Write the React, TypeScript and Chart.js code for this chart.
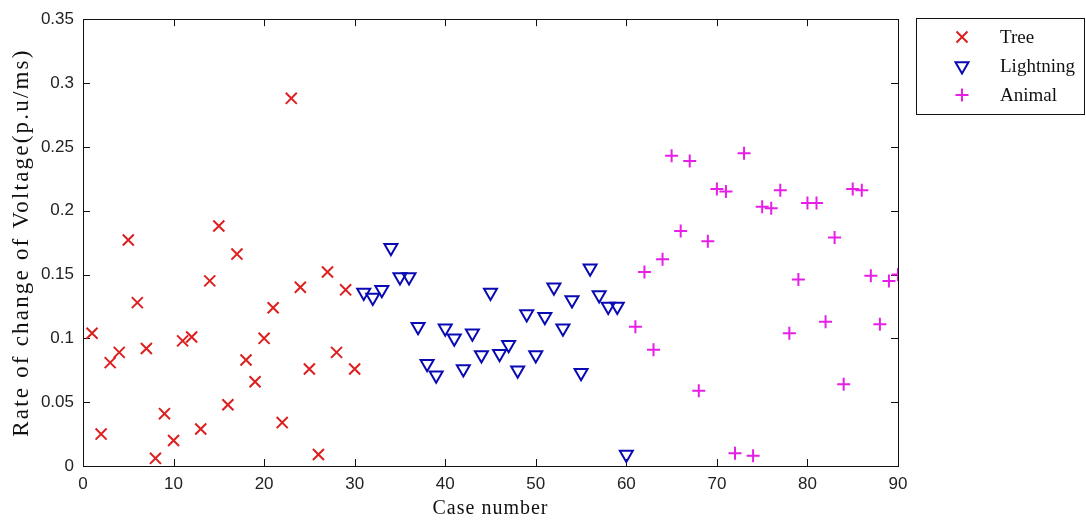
import React, { useEffect, useRef } from "react";
import { Chart, registerables } from "chart.js";

Chart.register(...registerables);

// ---- data ----
const treeX = [1, 2, 3, 4, 5, 6, 7, 8, 9, 10, 11, 12, 13, 14, 15, 16, 17, 18, 19, 20, 21, 22, 23, 24, 25, 26, 27, 28, 29, 30];
const treeY = [0.104, 0.025, 0.081, 0.089, 0.177, 0.128, 0.092, 0.006, 0.041, 0.020, 0.098, 0.101, 0.029, 0.145, 0.188, 0.048, 0.166, 0.083, 0.066, 0.100, 0.124, 0.034, 0.288, 0.140, 0.076, 0.009, 0.152, 0.089, 0.138, 0.076];

const lightningX = [31, 32, 33, 34, 35, 36, 37, 38, 39, 40, 41, 42, 43, 44, 45, 46, 47, 48, 49, 50, 51, 52, 53, 54, 55, 56, 57, 58, 59, 60];
const lightningY = [0.136, 0.132, 0.138, 0.171, 0.148, 0.148, 0.109, 0.080, 0.071, 0.108, 0.100, 0.076, 0.104, 0.087, 0.136, 0.088, 0.095, 0.075, 0.119, 0.087, 0.117, 0.140, 0.108, 0.130, 0.073, 0.155, 0.134, 0.125, 0.125, 0.009];

const animalX = [61, 62, 63, 64, 65, 66, 67, 68, 69, 70, 71, 72, 73, 74, 75, 76, 77, 78, 79, 80, 81, 82, 83, 84, 85, 86, 87, 88, 89, 90];
const animalY = [0.109, 0.152, 0.091, 0.162, 0.243, 0.184, 0.239, 0.059, 0.176, 0.217, 0.215, 0.010, 0.245, 0.008, 0.203, 0.202, 0.216, 0.104, 0.146, 0.206, 0.206, 0.113, 0.179, 0.064, 0.217, 0.216, 0.149, 0.111, 0.145, 0.150];

const seriesNames = ["Tree", "Lightning", "Animal"];
const xTicks = [0, 10, 20, 30, 40, 50, 60, 70, 80, 90];
const yTicks = [0, 0.05, 0.1, 0.15, 0.2, 0.25, 0.3, 0.35];
const yTickLabels = ["0", "0.05", "0.1", "0.15", "0.2", "0.25", "0.3", "0.35"];
const xTitle = "Case number";
const yTitle = "Rate of change of Voltage(p.u/ms)";

const RED = "#dd1f1f";
const BLUE = "#0a0ab4";
const MAGENTA = "#e61ee6";

const toPts = (xs: number[], ys: number[]) => xs.map((x, i) => ({ x, y: ys[i] }));

function drawMarker(ctx: CanvasRenderingContext2D, kind: number, x: number, y: number, color: string) {
  ctx.save();
  ctx.strokeStyle = color;
  ctx.lineWidth = 2;
  ctx.beginPath();
  if (kind === 0) {
    const d = 5.5;
    ctx.moveTo(x - d, y - d);
    ctx.lineTo(x + d, y + d);
    ctx.moveTo(x + d, y - d);
    ctx.lineTo(x - d, y + d);
  } else if (kind === 1) {
    const r = 7.5;
    const w = r * Math.sin(Math.PI / 3);
    ctx.moveTo(x - w, y - r / 2);
    ctx.lineTo(x + w, y - r / 2);
    ctx.lineTo(x, y + r);
    ctx.closePath();
  } else {
    const d = 6.5;
    ctx.moveTo(x - d, y);
    ctx.lineTo(x + d, y);
    ctx.moveTo(x, y - d);
    ctx.lineTo(x, y + d);
  }
  ctx.stroke();
  ctx.restore();
}

const framePlugin = {
  id: "frame",
  beforeDatasetsDraw(chart: any) {
    const { ctx, chartArea: a, scales } = chart;
    ctx.save();
    ctx.strokeStyle = "#111";
    ctx.lineWidth = 1;
    ctx.strokeRect(Math.round(a.left) + 0.5, Math.round(a.top) + 0.5, Math.round(a.right - a.left), Math.round(a.bottom - a.top));
    const tl = 7;
    ctx.beginPath();
    for (const v of xTicks) {
      const px = Math.round(scales.x.getPixelForValue(v)) + 0.5;
      ctx.moveTo(px, a.bottom);
      ctx.lineTo(px, a.bottom - tl);
      ctx.moveTo(px, a.top);
      ctx.lineTo(px, a.top + tl);
    }
    for (const v of yTicks) {
      const py = Math.round(scales.y.getPixelForValue(v)) + 0.5;
      ctx.moveTo(a.left, py);
      ctx.lineTo(a.left + tl, py);
      ctx.moveTo(a.right, py);
      ctx.lineTo(a.right - tl, py);
    }
    ctx.stroke();
    ctx.restore();
  },
  afterDraw(chart: any) {
    const { ctx, chartArea: a } = chart;
    ctx.save();
    // axis titles
    ctx.fillStyle = "#111";
    ctx.font = "20px 'Liberation Serif'";
    (ctx as any).letterSpacing = "1px";
    ctx.textAlign = "center";
    ctx.textBaseline = "middle";
    ctx.fillText(xTitle, (a.left + a.right) / 2, 509);
    ctx.save();
    ctx.font = "23px 'Liberation Serif'";
    (ctx as any).letterSpacing = "2.2px";
    ctx.translate(22, (a.top + a.bottom) / 2);
    ctx.rotate(-Math.PI / 2);
    ctx.fillText(yTitle, 0, 0);
    ctx.restore();
    (ctx as any).letterSpacing = "0px";
    // legend
    const bx = 916, by = 18, bw = 168, bh = 96;
    ctx.fillStyle = "#fff";
    ctx.fillRect(bx, by, bw, bh);
    ctx.strokeStyle = "#111";
    ctx.lineWidth = 1;
    ctx.strokeRect(bx + 0.5, by + 0.5, bw, bh);
    ctx.font = "19px 'Liberation Serif'";
    ctx.textAlign = "left";
    ctx.textBaseline = "middle";
    const rows = [37, 66, 95];
    chart.data.datasets.forEach((ds: any, i: number) => {
      drawMarker(ctx, i, 962, rows[i], ds.borderColor);
      ctx.fillStyle = "#111";
      ctx.fillText(ds.label, 1000, rows[i] + 1);
    });
    ctx.restore();
  },
};

export default function App() {
  const ref = useRef<HTMLCanvasElement | null>(null);
  useEffect(() => {
    if (!ref.current) return;
    const chart = new Chart(ref.current, {
      type: "scatter",
      data: {
        datasets: [
          {
            label: seriesNames[0],
            data: toPts(treeX, treeY),
            pointStyle: "crossRot",
            pointRadius: 7.8,
            borderWidth: 2,
            borderColor: RED,
            backgroundColor: "rgba(0,0,0,0)",
          },
          {
            label: seriesNames[1],
            data: toPts(lightningX, lightningY),
            pointStyle: "triangle",
            rotation: 180,
            pointRadius: 7.5,
            borderWidth: 2,
            borderColor: BLUE,
            backgroundColor: "rgba(0,0,0,0)",
          },
          {
            label: seriesNames[2],
            data: toPts(animalX, animalY),
            pointStyle: "cross",
            pointRadius: 6.5,
            borderWidth: 2,
            borderColor: MAGENTA,
            backgroundColor: "rgba(0,0,0,0)",
          },
        ],
      },
      options: {
        animation: false,
        responsive: false,
        maintainAspectRatio: false,
        events: [],
        layout: { padding: { top: 19, right: 188, left: 0, bottom: 0 } },
        plugins: { legend: { display: false }, tooltip: { enabled: false } },
        scales: {
          x: {
            type: "linear",
            min: 0,
            max: 90,
            afterFit: (s: any) => { s.height = 58; },
            afterBuildTicks: (s: any) => { s.ticks = xTicks.map((v) => ({ value: v })); },
            grid: { display: false, drawTicks: false },
            border: { display: false },
            ticks: {
              padding: 8,
              color: "#222",
              font: { family: "'Liberation Sans'", size: 17 },
              callback: (v: any) => String(v),
            },
          },
          y: {
            type: "linear",
            min: 0,
            max: 0.35,
            afterFit: (s: any) => { s.width = 83; },
            afterBuildTicks: (s: any) => { s.ticks = yTicks.map((v) => ({ value: v })); },
            grid: { display: false, drawTicks: false },
            border: { display: false },
            ticks: {
              padding: 9,
              color: "#222",
              font: { family: "'Liberation Sans'", size: 17 },
              callback: (v: any) => {
                const i = yTicks.findIndex((t) => Math.abs(t - v) < 1e-9);
                return i >= 0 ? yTickLabels[i] : "";
              },
            },
          },
        },
      },
      plugins: [framePlugin],
    });
    return () => chart.destroy();
  }, []);
  return (
    <div style={{ position: "fixed", left: 0, top: 0, width: 1086, height: 524, background: "#fff" }}>
      <canvas ref={ref} width={1086} height={524} style={{ display: "block", width: 1086, height: 524 }} />
    </div>
  );
}
